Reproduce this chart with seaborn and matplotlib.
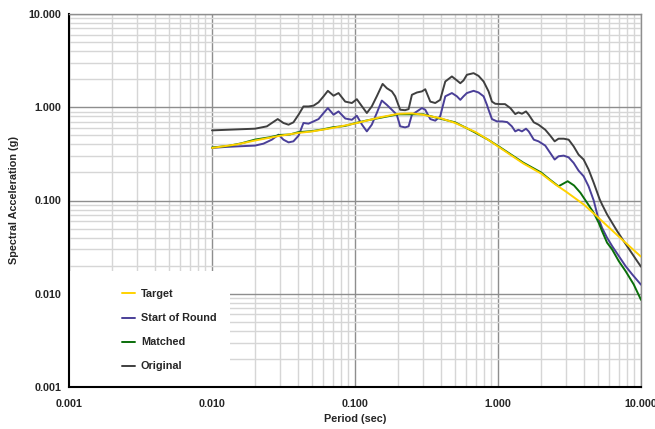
import numpy as np
import pandas as pd
import matplotlib
matplotlib.use("Agg")
import matplotlib.pyplot as plt
import matplotlib.ticker as mticker
from matplotlib.patches import Rectangle
import seaborn as sns

# --- data (period in sec, Sa in g) ---
target_T = [0.01, 0.015, 0.02, 0.03, 0.04, 0.05, 0.07, 0.1, 0.15, 0.2, 0.25, 0.3,
            0.4, 0.5, 0.6, 0.7, 0.85, 1.0, 1.5, 2.0, 2.5, 3.0, 4.0, 5.0, 6.0, 7.0, 8.0, 10.0]
target_Sa = [0.366, 0.40, 0.44, 0.495, 0.53, 0.55, 0.60, 0.67, 0.78, 0.85, 0.86, 0.83,
             0.76, 0.68, 0.60, 0.54, 0.45, 0.38, 0.25, 0.195, 0.15, 0.124, 0.090, 0.066,
             0.051, 0.041, 0.034, 0.025]

matched_T = [0.01, 0.013, 0.016, 0.02, 0.025, 0.03, 0.035, 0.04, 0.05, 0.06, 0.07, 0.085,
             0.1, 0.12, 0.15, 0.2, 0.25, 0.3, 0.4, 0.5, 0.6, 0.7, 0.85, 1.0, 1.5, 2.0,
             2.3, 2.65, 3.07, 3.4, 3.77, 4.2, 4.67, 5.06, 5.34, 5.79, 6.28, 6.99, 7.78,
             8.89, 10.0]
matched_Sa = [0.37, 0.385, 0.41, 0.45, 0.475, 0.505, 0.51, 0.54, 0.555, 0.58, 0.61, 0.63,
              0.675, 0.72, 0.77, 0.84, 0.84, 0.84, 0.75, 0.69, 0.60, 0.53, 0.45, 0.385,
              0.255, 0.20, 0.168, 0.142, 0.161, 0.145, 0.121, 0.0944, 0.0738, 0.0577,
              0.047, 0.0353, 0.0299, 0.0224, 0.0176, 0.0126, 0.0086]

start_T = [0.01, 0.0124, 0.0153, 0.02, 0.0229, 0.0262, 0.0292, 0.0316, 0.0343, 0.0371,
           0.0403, 0.0436, 0.0473, 0.0513, 0.0556, 0.0603, 0.0646, 0.0708, 0.0767, 0.0855,
           0.0951, 0.103, 0.112, 0.121, 0.131, 0.142, 0.154, 0.167, 0.181, 0.196, 0.207,
           0.224, 0.237, 0.25, 0.271, 0.294, 0.31, 0.336, 0.364, 0.394, 0.428, 0.476,
           0.516, 0.545, 0.574, 0.606, 0.675, 0.731, 0.793, 0.837, 0.859, 0.907, 0.984,
           1.07, 1.16, 1.25, 1.32, 1.39, 1.47, 1.57, 1.64, 1.78, 1.92, 2.14, 2.32, 2.49,
           2.65, 2.88, 3.12, 3.38, 3.66, 3.97, 4.3, 4.67, 4.98, 5.34, 5.79, 6.28, 6.99,
           7.78, 8.66, 10.0]
start_Sa = [0.366, 0.375, 0.381, 0.388, 0.407, 0.449, 0.508, 0.449, 0.42, 0.431,
            0.496, 0.678, 0.667, 0.705, 0.747, 0.867, 0.98, 0.832, 0.902, 0.757,
            0.734, 0.811, 0.65, 0.551, 0.65, 0.867, 1.18, 1.06, 0.94, 0.832, 0.624,
            0.608, 0.624, 0.832, 0.902, 0.98, 0.94, 0.747, 0.718, 0.798, 1.31, 1.42,
            1.31, 1.20, 1.31, 1.42, 1.50, 1.44, 1.31, 1.06, 0.94, 0.747, 0.705,
            0.705, 0.693, 0.624, 0.551, 0.574, 0.551, 0.589, 0.551, 0.449, 0.431, 0.388,
            0.323, 0.275, 0.298, 0.303, 0.29, 0.253, 0.209, 0.182, 0.142, 0.10, 0.068,
            0.051, 0.0399, 0.0325, 0.0254, 0.0199, 0.0162, 0.0125]

orig_T = [0.01, 0.02, 0.0242, 0.0262, 0.0288, 0.0316, 0.0343, 0.0371, 0.0403, 0.0436,
          0.0473, 0.0513, 0.0556, 0.0603, 0.0646, 0.0708, 0.0767, 0.0854, 0.0951, 0.103,
          0.112, 0.121, 0.131, 0.142, 0.156, 0.167, 0.181, 0.191, 0.207, 0.224, 0.237,
          0.25, 0.271, 0.294, 0.31, 0.336, 0.364, 0.394, 0.428, 0.476, 0.516, 0.545,
          0.574, 0.606, 0.675, 0.731, 0.793, 0.859, 0.907, 0.957, 1.04, 1.12, 1.22,
          1.32, 1.39, 1.47, 1.57, 1.64, 1.78, 1.92, 2.14, 2.32, 2.49, 2.65, 2.88, 3.12,
          3.38, 3.66, 3.97, 4.3, 4.67, 5.14, 5.34, 5.79, 6.28, 6.81, 7.57, 8.43, 9.38,
          10.0]
orig_Sa = [0.565, 0.589, 0.624, 0.678, 0.747, 0.678, 0.65, 0.689, 0.832, 1.02,
           1.02, 1.04, 1.13, 1.31, 1.50, 1.33, 1.42, 1.15, 1.11, 1.22,
           1.02, 0.867, 1.02, 1.31, 1.78, 1.60, 1.48, 1.31, 0.94, 0.93, 0.955,
           1.36, 1.44, 1.48, 1.56, 1.15, 1.11, 1.20, 1.89, 2.14, 1.94, 1.81,
           1.94, 2.23, 2.32, 2.17, 1.89, 1.48, 1.15, 1.09, 1.08, 1.08, 0.98,
           0.845, 0.881, 0.852, 0.902, 0.832, 0.689, 0.65, 0.574, 0.496, 0.431, 0.46,
           0.46, 0.449, 0.381, 0.31, 0.275, 0.215, 0.155, 0.103, 0.0907, 0.071, 0.0577,
           0.047, 0.0367, 0.0287, 0.0225, 0.0195]

series_names = ["Target", "Start of Round", "Matched", "Original"]
colors = {"Target": "#FFD200", "Start of Round": "#4A3F98",
          "Matched": "#0A6E0A", "Original": "#3F3F3F"}

df = pd.concat([
    pd.DataFrame({"T": target_T, "Sa": target_Sa, "series": "Target"}),
    pd.DataFrame({"T": start_T, "Sa": start_Sa, "series": "Start of Round"}),
    pd.DataFrame({"T": matched_T, "Sa": matched_Sa, "series": "Matched"}),
    pd.DataFrame({"T": orig_T, "Sa": orig_Sa, "series": "Original"}),
])

sns.set_theme(style="white")
plt.rcParams["font.family"] = ["Liberation Sans", "DejaVu Sans"]
plt.rcParams["font.weight"] = "bold"

fig, ax = plt.subplots(figsize=(6.55, 4.29), dpi=100)
fig.subplots_adjust(left=69/655, right=641/655, bottom=1-387/429, top=1-14/429)

# draw target last so it sits on top
for name in ["Original", "Start of Round", "Matched", "Target"]:
    sns.lineplot(data=df[df["series"] == name], x="T", y="Sa", color=colors[name],
                 estimator=None, sort=False, lw=1.4, label=name, ax=ax, zorder=3)

ax.set_xscale("log")
ax.set_yscale("log")
ax.set_xlim(0.001, 10)
ax.set_ylim(0.001, 10)

decades = [0.001, 0.01, 0.1, 1, 10]
fmt = mticker.FuncFormatter(lambda v, p: f"{v:.3f}")
for axis in (ax.xaxis, ax.yaxis):
    axis.set_major_locator(mticker.FixedLocator(decades))
    axis.set_major_formatter(fmt)
    axis.set_minor_locator(mticker.LogLocator(base=10, subs=np.arange(2, 10)))
    axis.set_minor_formatter(mticker.NullFormatter())

ax.set_axisbelow(True)
ax.grid(which="major", color="#8e8e8e", lw=1.0)
ax.grid(which="minor", color="#d6d6d6", lw=1.0)

ax.tick_params(axis="both", which="major", direction="inout", length=5, width=1,
               color="black", labelsize=7.8, pad=3)
ax.tick_params(axis="x", which="minor", direction="in", length=3, width=0.8, color="black")
ax.tick_params(axis="y", which="minor", direction="out", length=2.5, width=0.8, color="black")
ax.tick_params(axis="x", which="major", pad=6)

for side in ("left", "bottom"):
    ax.spines[side].set_color("black")
    ax.spines[side].set_linewidth(1.5)
for side in ("top", "right"):
    ax.spines[side].set_color("#8e8e8e")
    ax.spines[side].set_linewidth(1.0)

ax.set_xlabel("Period (sec)", fontsize=7.8, fontweight="bold", labelpad=4)
ax.set_ylabel("Spectral Acceleration (g)", fontsize=7.8, fontweight="bold", labelpad=7)

# white block behind the legend, hides the grid like in the original
ax.add_patch(Rectangle((0, 0), 0.282, 0.31, transform=ax.transAxes,
                       facecolor="white", edgecolor="none", zorder=1))

handles, labels = ax.get_legend_handles_labels()
order = [labels.index(n) for n in series_names]
ax.legend([handles[i] for i in order], [labels[i] for i in order],
          loc="lower left", bbox_to_anchor=(0.085, 0.03), borderaxespad=0,
          frameon=False, handlelength=1.25, handletextpad=0.5,
          labelspacing=1.3, prop={"weight": "bold", "size": 7.8})

plt.savefig("out.png", dpi=100)
